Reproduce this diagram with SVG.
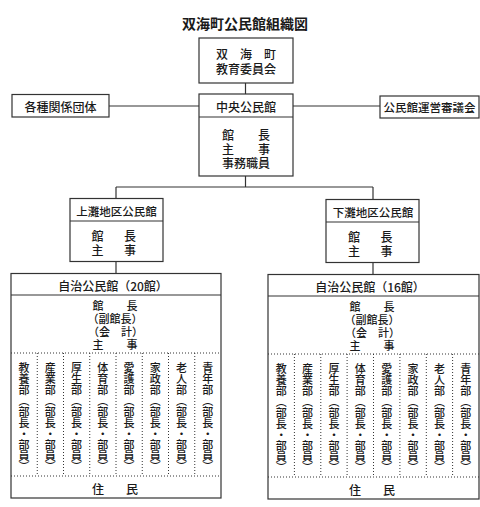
<svg xmlns="http://www.w3.org/2000/svg" width="480" height="507" viewBox="0 0 480 507">
<style>
.b{fill:#fff;stroke:#333;stroke-width:1.2}
.l{stroke:#333;stroke-width:1.2;fill:none}
.d{stroke:#333;stroke-width:1;stroke-dasharray:1 2;fill:none}
text{font-family:"Noto Sans CJK JP","Noto Sans CJK SC",sans-serif;fill:#1a1a1a;font-size:12px;font-weight:500;dominant-baseline:central}
.c{text-anchor:middle}
.s{font-size:11px}
.t{font-size:14px;font-weight:700}
.v{font-size:11px;writing-mode:vertical-rl;text-anchor:start}
</style>
<rect width="480" height="507" fill="#fff"/>
<text class="c t" x="245" y="22.5">双海町公民館組織図</text>

<g id="connectors">
<line class="l" x1="245.5" y1="83" x2="245.5" y2="94"/>
<line class="l" x1="109" y1="106" x2="199" y2="106"/>
<line class="l" x1="293" y1="106" x2="380" y2="106"/>
<line class="l" x1="245.5" y1="176" x2="245.5" y2="187"/>
<line class="l" x1="116" y1="187" x2="373" y2="187"/>
<line class="l" x1="116" y1="187" x2="116" y2="199"/>
<line class="l" x1="373" y1="187" x2="373" y2="200"/>
<line class="l" x1="116" y1="261.5" x2="116" y2="273.5"/>
<line class="l" x1="373" y1="262.5" x2="373" y2="274.5"/>
</g>

<g id="kyoiku">
<rect class="b" x="199" y="38" width="94" height="45"/>
<text class="c" x="246" y="53">双　海　町</text>
<text class="c" x="246" y="68">教育委員会</text>
</g>

<g id="kakushu">
<rect class="b" x="12" y="94.5" width="97" height="22.5"/>
<text class="c" x="60.5" y="106">各種関係団体</text>
</g>

<g id="shingikai">
<rect class="b" x="380" y="96" width="99" height="22"/>
<text class="c" x="429.5" y="107" style="font-size:11.5px">公民館運営審議会</text>
</g>

<g id="chuo">
<rect class="b" x="199" y="94" width="94" height="82"/>
<line class="l" x1="199" y1="117" x2="293" y2="117"/>
<text class="c" x="246" y="106">中央公民館</text>
<text class="c" x="246" y="134">館　　長</text>
<text class="c" x="246" y="148">主　　事</text>
<text class="c" x="246" y="162">事務職員</text>
</g>

<g id="kaminada">
<rect class="b" x="70" y="198.5" width="93" height="63"/>
<line class="l" x1="70" y1="221" x2="163" y2="221"/>
<text class="c" x="116.5" y="210.5" style="font-size:11.5px">上灘地区公民館</text>
<text class="c" y="234.5"><tspan x="97.5">館</tspan><tspan x="130">長</tspan></text>
<text class="c" y="249"><tspan x="97.5">主</tspan><tspan x="130">事</tspan></text>
</g>

<g id="shimonada">
<rect class="b" x="326" y="199.5" width="93" height="63"/>
<line class="l" x1="326" y1="222" x2="419" y2="222"/>
<text class="c" x="373" y="211.5" style="font-size:11.5px">下灘地区公民館</text>
<text class="c" y="235.5"><tspan x="354">館</tspan><tspan x="386.5">長</tspan></text>
<text class="c" y="250"><tspan x="354">主</tspan><tspan x="386.5">事</tspan></text>
</g>

<g id="jichi20">
<rect class="b" x="11" y="273.5" width="210" height="224.5"/>
<line class="l" x1="11" y1="295" x2="221" y2="295"/>
<line class="d" x1="11" y1="353" x2="221" y2="353"/>
<line class="d" x1="11" y1="476" x2="221" y2="476"/>
<line class="d" x1="37.25" y1="353" x2="37.25" y2="476"/>
<line class="d" x1="63.5" y1="353" x2="63.5" y2="476"/>
<line class="d" x1="89.75" y1="353" x2="89.75" y2="476"/>
<line class="d" x1="116" y1="353" x2="116" y2="476"/>
<line class="d" x1="142.25" y1="353" x2="142.25" y2="476"/>
<line class="d" x1="168.5" y1="353" x2="168.5" y2="476"/>
<line class="d" x1="194.75" y1="353" x2="194.75" y2="476"/>
<text class="c" x="113" y="285.5">自治公民館（20館）</text>
<text class="c s" y="305"><tspan x="98">館</tspan><tspan x="132">長</tspan></text>
<text class="c s" x="115" y="318">（副館長）</text>
<text class="c s" x="115.5" y="331">（会　計）</text>
<text class="c s" y="344"><tspan x="98">主</tspan><tspan x="132">事</tspan></text>
<text class="v" x="24" y="362.5">教養部（部長・部員）</text>
<text class="v" x="50.25" y="362.5">産業部（部長・部員）</text>
<text class="v" x="76.5" y="362.5">厚生部（部長・部員）</text>
<text class="v" x="102.75" y="362.5">体育部（部長・部員）</text>
<text class="v" x="129" y="362.5">愛護部（部長・部員）</text>
<text class="v" x="155.25" y="362.5">家政部（部長・部員）</text>
<text class="v" x="181.5" y="362.5">老人部（部長・部員）</text>
<text class="v" x="207.75" y="362.5">青年部（部長・部員）</text>
<text class="c" y="488"><tspan x="98">住</tspan><tspan x="132">民</tspan></text>
</g>

<g id="jichi16">
<rect class="b" x="268" y="274.5" width="211" height="224.5"/>
<line class="l" x1="268" y1="296" x2="479" y2="296"/>
<line class="d" x1="268" y1="354" x2="479" y2="354"/>
<line class="d" x1="268" y1="477" x2="479" y2="477"/>
<line class="d" x1="294.4" y1="354" x2="294.4" y2="477"/>
<line class="d" x1="320.8" y1="354" x2="320.8" y2="477"/>
<line class="d" x1="347.1" y1="354" x2="347.1" y2="477"/>
<line class="d" x1="373.5" y1="354" x2="373.5" y2="477"/>
<line class="d" x1="399.9" y1="354" x2="399.9" y2="477"/>
<line class="d" x1="426.3" y1="354" x2="426.3" y2="477"/>
<line class="d" x1="452.6" y1="354" x2="452.6" y2="477"/>
<text class="c" x="370" y="286.5">自治公民館（16館）</text>
<text class="c s" y="306"><tspan x="355">館</tspan><tspan x="389">長</tspan></text>
<text class="c s" x="372" y="319">（副館長）</text>
<text class="c s" x="372.5" y="332">（会　計）</text>
<text class="c s" y="345"><tspan x="355">主</tspan><tspan x="389">事</tspan></text>
<text class="v" x="281.2" y="363.5">教養部（部長・部員）</text>
<text class="v" x="307.6" y="363.5">産業部（部長・部員）</text>
<text class="v" x="334" y="363.5">厚生部（部長・部員）</text>
<text class="v" x="360.3" y="363.5">体育部（部長・部員）</text>
<text class="v" x="386.7" y="363.5">愛護部（部長・部員）</text>
<text class="v" x="413.1" y="363.5">家政部（部長・部員）</text>
<text class="v" x="439.5" y="363.5">老人部（部長・部員）</text>
<text class="v" x="465.8" y="363.5">青年部（部長・部員）</text>
<text class="c" y="489"><tspan x="355">住</tspan><tspan x="389">民</tspan></text>
</g>
</svg>
